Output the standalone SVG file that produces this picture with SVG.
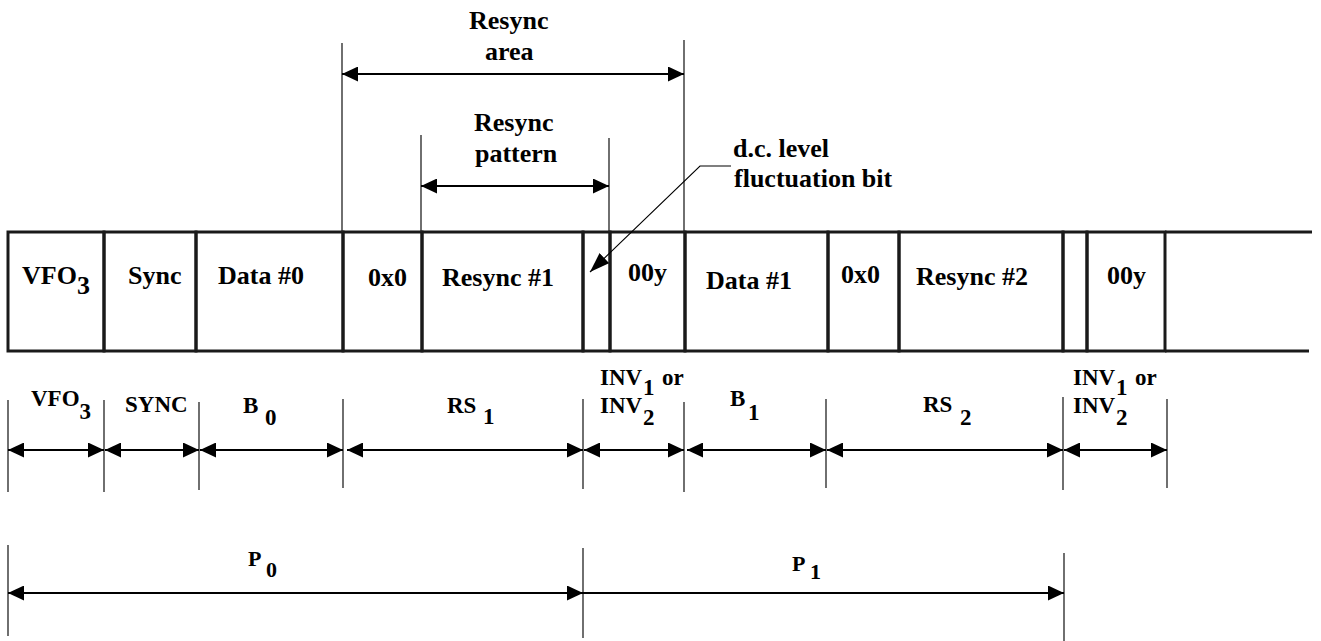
<svg xmlns="http://www.w3.org/2000/svg" width="1321" height="641" viewBox="0 0 1321 641">
<defs>
<marker id="ah" viewBox="0 0 16 15" refX="16" refY="7.5" markerWidth="16" markerHeight="15" markerUnits="userSpaceOnUse" orient="auto-start-reverse"><path d="M0,0 L16,7.5 L0,15 z" fill="#000"/></marker>
<marker id="ah2" viewBox="0 0 20 14" refX="20" refY="7" markerWidth="20" markerHeight="14" markerUnits="userSpaceOnUse" orient="auto"><path d="M0,0 L20,7 L0,14 z" fill="#000"/></marker>
</defs>
<style>
.cell{fill:none;stroke:#1a1a1a;stroke-width:3}
.edge{stroke:#1a1a1a;stroke-width:3;fill:none}
.t{font-family:"Liberation Serif","Times New Roman",serif;font-weight:bold;font-size:26px;fill:#000}
.s{font-family:"Liberation Serif","Times New Roman",serif;font-weight:bold;font-size:23px;fill:#000}
.ext{stroke:#222;stroke-width:1.3;fill:none}
.dim{stroke:#000;stroke-width:2.2;fill:none;marker-start:url(#ah);marker-end:url(#ah)}
.dimE{stroke:#000;stroke-width:2.2;fill:none;marker-end:url(#ah)}
.lead{stroke:#000;stroke-width:1.1;fill:none;marker-end:url(#ah2)}
</style>
<rect width="1321" height="641" fill="#fff"/>

<g id="band">
  <g id="cell-vfo3"><rect class="cell" x="8" y="232" width="96" height="119"/><text class="t" x="22" y="284">VFO<tspan dy="10">3</tspan></text></g>
  <g id="cell-sync"><rect class="cell" x="104" y="232" width="92" height="119"/><text class="t" x="128" y="284">Sync</text></g>
  <g id="cell-data0"><rect class="cell" x="196" y="232" width="147" height="119"/><text class="t" x="218" y="284">Data #0</text></g>
  <g id="cell-0x0-a"><rect class="cell" x="343" y="232" width="79" height="119"/><text class="t" x="368" y="286">0x0</text></g>
  <g id="cell-resync1"><rect class="cell" x="422" y="232" width="161" height="119"/><text class="t" x="442" y="286">Resync #1</text></g>
  <g id="cell-dc1"><rect class="cell" x="583" y="232" width="27" height="119"/></g>
  <g id="cell-00y-a"><rect class="cell" x="610" y="232" width="75" height="119"/><text class="t" x="628" y="281">00y</text></g>
  <g id="cell-data1"><rect class="cell" x="685" y="232" width="143" height="119"/><text class="t" x="706" y="289">Data #1</text></g>
  <g id="cell-0x0-b"><rect class="cell" x="828" y="232" width="71" height="119"/><text class="t" x="841" y="283">0x0</text></g>
  <g id="cell-resync2"><rect class="cell" x="899" y="232" width="164" height="119"/><text class="t" x="916" y="285">Resync #2</text></g>
  <g id="cell-dc2"><rect class="cell" x="1063" y="232" width="24" height="119"/></g>
  <g id="cell-00y-b"><rect class="cell" x="1087" y="232" width="78" height="119"/><text class="t" x="1107" y="284">00y</text></g>
  <g id="cell-tail"><line class="edge" x1="1165" y1="232" x2="1312" y2="232"/><line class="edge" x1="1165" y1="351" x2="1309" y2="351"/></g>
</g>

<g id="connectors">
  <line class="ext" x1="342" y1="43" x2="342" y2="232"/>
  <line class="ext" x1="684" y1="40" x2="684" y2="232"/>
  <line class="ext" x1="421" y1="135" x2="421" y2="232"/>
  <line class="ext" x1="609" y1="138" x2="609" y2="232"/>
  <line class="ext" x1="8" y1="400" x2="8" y2="492"/>
  <line class="ext" x1="104" y1="400" x2="104" y2="492"/>
  <line class="ext" x1="199" y1="402" x2="199" y2="490"/>
  <line class="ext" x1="343" y1="399" x2="343" y2="488"/>
  <line class="ext" x1="583" y1="399" x2="583" y2="489"/>
  <line class="ext" x1="684" y1="402" x2="684" y2="492"/>
  <line class="ext" x1="826" y1="399" x2="826" y2="488"/>
  <line class="ext" x1="1063" y1="397" x2="1063" y2="490"/>
  <line class="ext" x1="1167" y1="399" x2="1167" y2="488"/>
  <line class="ext" x1="8" y1="545" x2="8" y2="636"/>
  <line class="ext" x1="583" y1="548" x2="583" y2="638"/>
  <line class="ext" x1="1064" y1="553" x2="1064" y2="641"/>
  <line class="dim" x1="342" y1="74" x2="684" y2="74"/>
  <line class="dim" x1="421" y1="186" x2="609" y2="186"/>
  <line class="dim" x1="8" y1="450" x2="104" y2="450"/>
  <line class="dim" x1="105" y1="450" x2="199" y2="450"/>
  <line class="dim" x1="200" y1="450" x2="343" y2="450"/>
  <line class="dim" x1="347" y1="450" x2="583" y2="450"/>
  <line class="dim" x1="584" y1="450" x2="684" y2="450"/>
  <line class="dim" x1="687" y1="450" x2="826" y2="450"/>
  <line class="dim" x1="827" y1="450" x2="1063" y2="450"/>
  <line class="dim" x1="1064" y1="450" x2="1167" y2="450"/>
  <line class="dim" x1="8" y1="593" x2="583" y2="593"/>
  <line class="dimE" x1="583" y1="593" x2="1064" y2="593"/>
  <polyline class="lead" points="731,166 700,166 590,272"/>
</g>

<g id="label-resync-area"><text class="t" x="469" y="29">Resync</text><text class="t" x="485" y="60">area</text></g>
<g id="label-resync-pattern"><text class="t" x="474" y="131">Resync</text><text class="t" x="475" y="162">pattern</text></g>
<g id="label-dc"><text class="t" x="733" y="157">d.c. level</text><text class="t" x="734" y="187">fluctuation bit</text></g>

<g id="dim-vfo3"><text class="s" x="31" y="406">VFO<tspan dy="13">3</tspan></text></g>
<g id="dim-sync"><text class="s" x="125" y="412">SYNC</text></g>
<g id="dim-b0"><text class="s"><tspan x="243" y="413">B</tspan><tspan x="265" y="425">0</tspan></text></g>
<g id="dim-rs1"><text class="s"><tspan x="447" y="413">RS</tspan><tspan x="483" y="424">1</tspan></text></g>
<g id="dim-inv-a"><text class="s"><tspan x="600" y="385">INV</tspan><tspan x="643" y="395">1</tspan><tspan x="662" y="385">or</tspan></text><text class="s"><tspan x="600" y="413">INV</tspan><tspan x="643" y="425">2</tspan></text></g>
<g id="dim-b1"><text class="s"><tspan x="730" y="406">B</tspan><tspan x="748" y="420">1</tspan></text></g>
<g id="dim-rs2"><text class="s"><tspan x="923" y="412">RS</tspan><tspan x="960" y="425">2</tspan></text></g>
<g id="dim-inv-b"><text class="s"><tspan x="1073" y="385">INV</tspan><tspan x="1116" y="395">1</tspan><tspan x="1135" y="385">or</tspan></text><text class="s"><tspan x="1073" y="413">INV</tspan><tspan x="1116" y="425">2</tspan></text></g>
<g id="dim-p0"><text class="s" style="font-size:22px"><tspan x="248" y="566">P</tspan><tspan x="266" y="577">0</tspan></text></g>
<g id="dim-p1"><text class="s" style="font-size:22px"><tspan x="792" y="571">P</tspan><tspan x="810" y="579">1</tspan></text></g>
</svg>
